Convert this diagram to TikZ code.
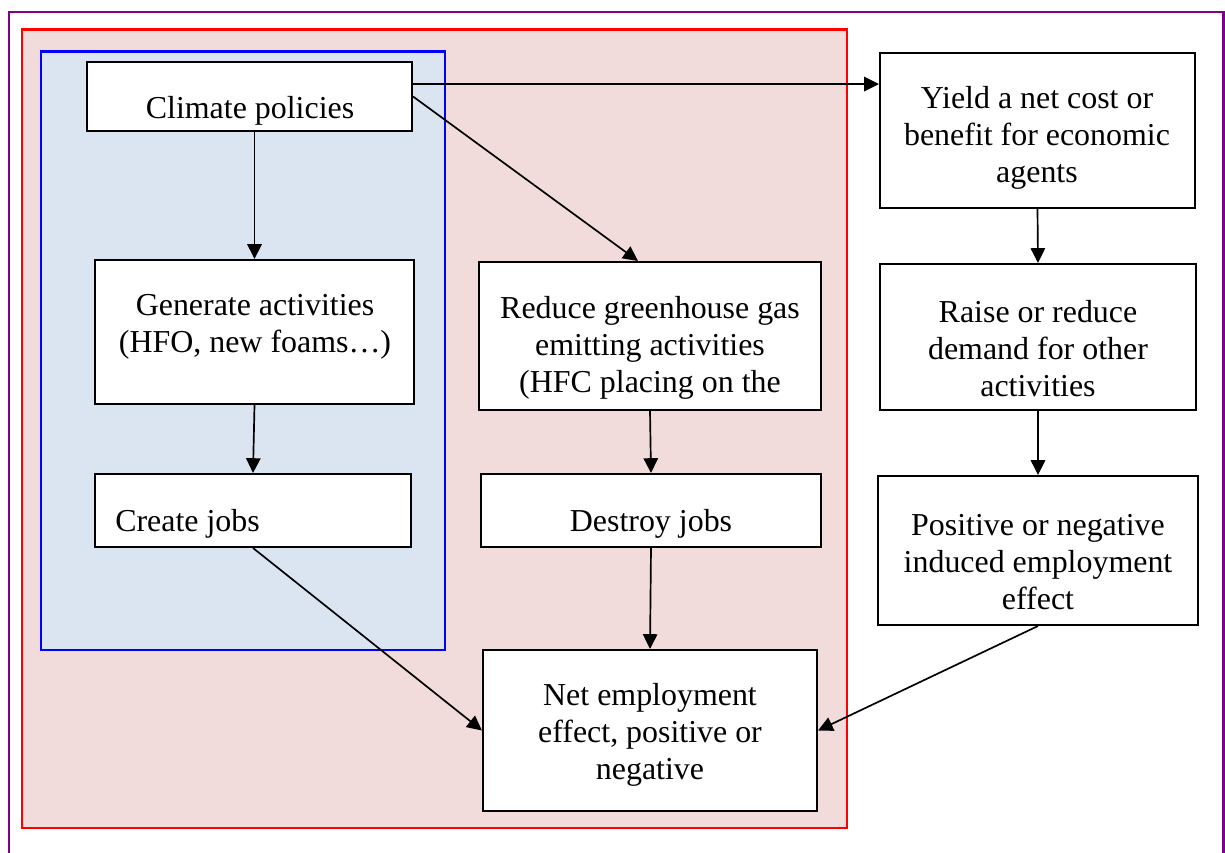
\documentclass[tikz,border=0pt]{standalone}
\usepackage{fontspec}
\setmainfont{Liberation Serif}
\usepackage{tikz}
\usetikzlibrary{arrows.meta, positioning}
\definecolor{polPink}{RGB}{242,220,219}
\definecolor{polBlue}{RGB}{219,229,241}
\definecolor{polPurple}{RGB}{128,0,140}

\begin{document}
\begin{tikzpicture}[x=0.025cm, y=-0.025cm,
    box/.style={draw, fill=white, line width=1.4pt, inner sep=0pt},
    txt/.style={align=center, inner sep=0pt, font=\fontsize{22.7}{26.3}\selectfont},
    arr/.style={-{Triangle[length=0.37cm, width=0.36cm]}, line width=1.2pt}]
  \useasboundingbox (0,0) rectangle (1225,853);
  \clip (0,0) rectangle (1225,853);
  % frames
  \draw[polPurple, line width=2pt] (9,12) rectangle (1223.5,890);
  \draw[red, fill=polPink, line width=2pt] (22,29.5) rectangle (847,828);
  \draw[blue, fill=polBlue, line width=1.6pt] (41,51.5) rectangle (445,650);

  % boxes
  \node[box, minimum width=8.125cm, minimum height=1.725cm] (clim) at (249.5,96.5) {};
  \node[txt, anchor=base] at (250,119) {Climate policies};
  \node[box, minimum width=7.975cm, minimum height=3.6cm] (gen) at (254.5,332) {};
  \node[txt] at (255,327) {Generate activities\\(HFO, new foams…)};
  \node[box, minimum width=7.9cm, minimum height=1.825cm] (create) at (253,510.5) {};
  \node[txt, anchor=base west] at (115,531) {Create jobs};
  \node[box, minimum width=8.55cm, minimum height=3.7cm] (red) at (650,336) {};
  \node[txt] at (650,348) {Reduce greenhouse gas\\emitting activities\\(HFC placing on the};
  \node[box, minimum width=8.5cm, minimum height=1.825cm] (des) at (651,510.5) {};
  \node[txt, anchor=base] at (651,531) {Destroy jobs};
  \node[box, minimum width=8.35cm, minimum height=4.025cm] (net) at (650,730.5) {};
  \node[txt] at (650,735) {Net employment\\effect, positive or\\negative};
  \node[box, minimum width=7.875cm, minimum height=3.875cm] (yield) at (1037.5,130.5) {};
  \node[txt] at (1037,138) {Yield a net cost or\\benefit for economic\\agents};
  \node[box, minimum width=7.9cm, minimum height=3.65cm] (raise) at (1038,337) {};
  \node[txt] at (1038,349) {Raise or reduce\\demand for other\\activities};
  \node[box, minimum width=8cm, minimum height=3.725cm] (pos) at (1038,550.5) {};
  \node[txt] at (1038,562) {Positive or negative\\induced employment\\effect};

  % arrows
  \draw[arr] ([yshift=0.31cm]clim.east) -- ([yshift=0.31cm]clim.east -| yield.west);
  \draw[arr] (clim.east) -- ([xshift=-0.3cm]red.north);
  \draw[arr] (gen.north |- clim.south) -- (gen.north);
  \draw[arr] (gen.south) -- (create.north);
  \draw[arr] (create.south) -- (net.west);
  \draw[arr] (red.south) -- (des.north);
  \draw[arr] (des.south) -- (net.north);
  \draw[arr] (yield.south) -- (raise.north);
  \draw[arr] (raise.south) -- (pos.north);
  \draw[arr] (pos.south) -- (net.east);
\end{tikzpicture}
\end{document}
